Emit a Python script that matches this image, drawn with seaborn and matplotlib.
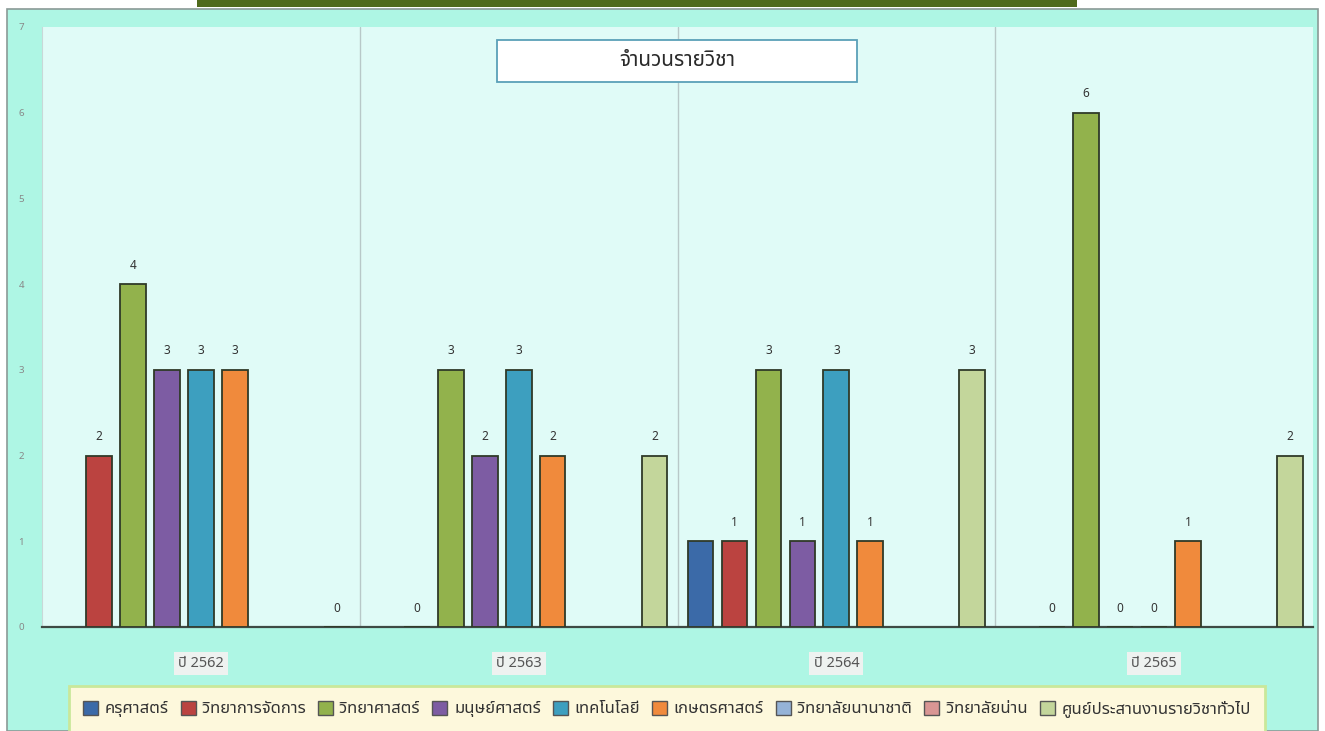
import numpy as np
import pandas as pd
import matplotlib
matplotlib.use("Agg")
import matplotlib.pyplot as plt
from matplotlib import font_manager
from matplotlib.colors import to_hex
from matplotlib.patches import Patch, Rectangle
import seaborn as sns

# data (nan = no bar)
nan = np.nan
years = ["ปี 2562", "ปี 2563", "ปี 2564", "ปี 2565"]
faculties = ["ครุศาสตร์", "วิทยาการจัดการ", "วิทยาศาสตร์", "มนุษย์ศาสตร์", "เทคโนโลยี",
             "เกษตรศาสตร์", "วิทยาลัยนานาชาติ", "วิทยาลัยน่าน", "ศูนย์ประสานงานรายวิชาทั่วไป"]
kru = [nan, nan, 1, nan]
manage = [2, 0, 1, 0]
science = [4, 3, 3, 6]
human = [3, 2, 1, 0]
tech = [3, 3, 3, 0]
agri = [3, 2, 1, 1]
inter = [nan, nan, nan, nan]
nan_college = [nan, nan, nan, nan]
center = [0, 2, 3, 2]
colors = ["#3b6aa8", "#bb4340", "#92b24c", "#7d5ca3", "#3d9fbf", "#f08a3c",
          "#95b3d7", "#d99694", "#c3d69b"]
labelled = faculties[1:]

series = [kru, manage, science, human, tech, agri, inter, nan_college, center]
rows = []
for fac, vals in zip(faculties, series):
    for yr, v in zip(years, vals):
        rows.append({"year": yr, "faculty": fac, "count": v})
df = pd.DataFrame(rows)

sns.set_style("white")
names = {f.name for f in font_manager.fontManager.ttflist}
thai = next((n for n in ["Leelawadee UI", "Tahoma", "Noto Sans Thai", "Noto Sans Thai UI",
                         "Sarabun", "IBM Plex Sans Thai", "Anuphan"] if n in names), "DejaVu Sans")
plt.rcParams["font.family"] = [thai, "DejaVu Sans"]

fig = plt.figure(figsize=(13.25, 7.31), dpi=100)
fig.patch.set_facecolor("white")
# outer chart frame and header strip
fig.patches.append(Rectangle((7 / 1325, 0), 1311 / 1325, 1 - 9 / 731, transform=fig.transFigure,
                             facecolor="#aef6e4", edgecolor="#8a9a96", lw=1.2, zorder=-2))
fig.patches.append(Rectangle((197 / 1325, 1 - 7 / 731), 880 / 1325, 7 / 731, transform=fig.transFigure,
                             facecolor="#4f6a1c", edgecolor="none", zorder=-2))

ax = fig.add_axes([42 / 1325, 1 - 627 / 731, 1271 / 1325, 600 / 731])
ax.set_facecolor("#e0fbf7")
sns.barplot(data=df, x="year", y="count", hue="faculty", order=years, hue_order=faculties,
            palette=colors, saturation=1, width=0.962, gap=0.24, edgecolor="#2f3a28",
            linewidth=1.3, legend=False, ax=ax, zorder=3)

hex_to_fac = {c: f for f, c in zip(faculties, colors)}
for cont in ax.containers:
    if len(cont.patches) == 0:
        continue
    fac = hex_to_fac.get(to_hex(cont.patches[0].get_facecolor()))
    if fac in labelled:
        ax.bar_label(cont, fmt="%g", padding=9, fontsize=8.5, color="#333333")

ax.set_ylim(0, 7)
ax.set_xlim(-0.5, 3.5)
ax.set_yticks(range(8))
ax.tick_params(axis="y", labelsize=7, labelcolor="#888888", length=0, pad=13)
ax.tick_params(axis="x", labelsize=10.5, labelcolor="#555555", length=0, pad=21)
for lab in ax.get_xticklabels():
    lab.set_bbox(dict(facecolor="#eef2f0", edgecolor="none", pad=3))
for xv in [0.5, 1.5, 2.5]:
    ax.axvline(xv, color="#b8c8c8", lw=1, zorder=1)
ax.set_xlabel("")
ax.set_ylabel("")
for s in ["top", "right"]:
    ax.spines[s].set_visible(False)
ax.spines["left"].set_color("#c8d8d8")
ax.spines["bottom"].set_color("#3e4a44")
ax.spines["bottom"].set_linewidth(1.6)

# chart title in its own box
ax.add_patch(Rectangle((455 / 1271, (627 - 82) / 600), 360 / 1271, 42 / 600, transform=ax.transAxes,
                       facecolor="white", edgecolor="#5aa0b8", lw=1.3, zorder=5))
ax.text(0.5, (627 - 60) / 600, "จำนวนรายวิชา", transform=ax.transAxes, ha="center", va="center",
        fontsize=15, fontweight="bold", color="#2a2a2a", zorder=6)

handles = [Patch(facecolor=c, edgecolor="#555555", label=f) for f, c in zip(faculties, colors)]
leg = fig.legend(handles=handles, loc="center", bbox_to_anchor=(667 / 1325, 1 - 709 / 731),
                 ncol=9, fontsize=12, frameon=True, framealpha=1, handlelength=0.9,
                 handleheight=0.9, handletextpad=0.4, columnspacing=0.72, borderpad=0.55)
leg.get_frame().set_facecolor("#fdf8dc")
leg.get_frame().set_edgecolor("#c9e89a")
leg.get_frame().set_linewidth(2)
leg.get_frame().set_boxstyle("square")
for t in leg.get_texts():
    t.set_color("#333333")

fig.savefig("out.png", dpi=100, facecolor=fig.get_facecolor())
